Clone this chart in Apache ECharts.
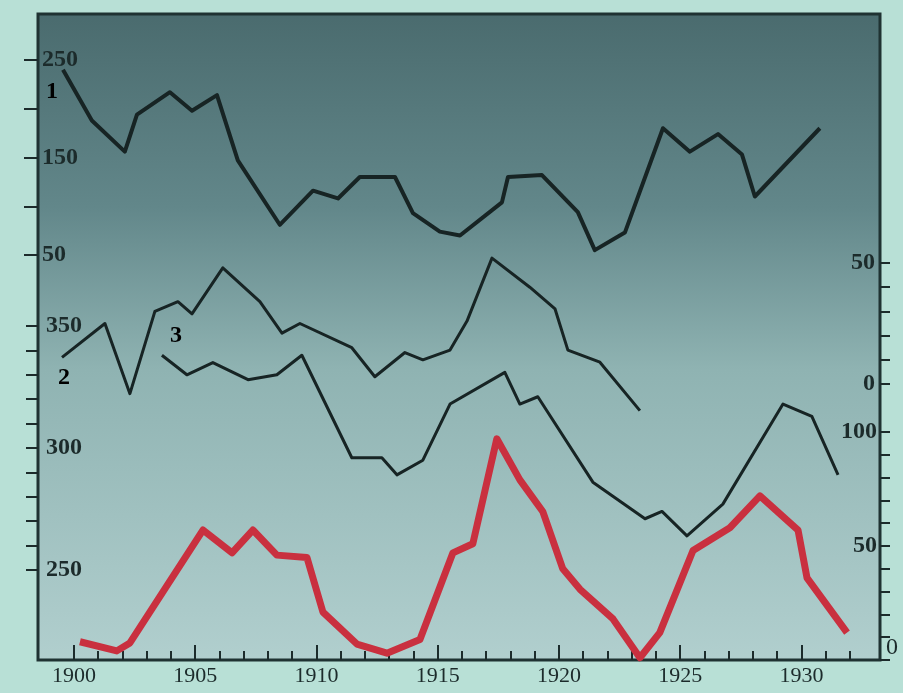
<!DOCTYPE html>
<html>
<head>
<meta charset="utf-8">
<script src="https://cdn.jsdelivr.net/npm/echarts@6/dist/echarts.min.js"></script>
<style>
  html, body { margin: 0; padding: 0; background: #b6ded4; }
  #chart { width: 903px; height: 693px; }
</style>
</head>
<body>
<div id="chart"></div>
<script>
// 曲线 1 (左上刻度 50-250)
const curve1Years = [1899.55, 1900.74, 1902.10, 1902.60, 1903.96, 1904.87, 1905.90, 1906.76, 1908.49, 1909.86, 1910.89, 1911.79, 1913.24, 1913.98, 1915.09, 1915.92, 1917.65, 1917.90, 1919.30, 1920.78, 1921.48, 1922.72, 1924.29, 1925.40, 1926.56, 1927.55, 1928.08, 1930.76]
const curve1Values = [240, 188, 156, 194, 217, 198, 214, 147, 81, 116, 108, 130, 130, 93, 74, 70, 104, 130, 132, 94, 55, 73, 180, 156, 174, 153, 110, 180]

// 曲线 2 (右上刻度 0-50)
const curve2Years = [1899.51, 1901.28, 1902.31, 1903.34, 1904.29, 1904.87, 1906.14, 1907.67, 1908.58, 1909.32, 1911.46, 1912.41, 1913.65, 1914.39, 1915.51, 1916.21, 1917.24, 1918.80, 1919.84, 1920.37, 1921.69, 1923.34]
const curve2Values = [11, 25, -4, 30, 34, 29, 48, 34, 21, 25, 15, 3, 13, 10, 14, 26, 52, 40, 31, 14, 9, -11]

// 曲线 3 (左下刻度 250-350)
const curve3Years = [1903.63, 1904.66, 1905.73, 1907.18, 1908.37, 1909.40, 1911.46, 1912.70, 1913.32, 1914.39, 1915.51, 1917.77, 1918.39, 1919.13, 1921.40, 1923.55, 1924.25, 1925.28, 1926.76, 1929.24, 1930.43, 1931.51]
const curve3Values = [338, 330, 335, 328, 330, 338, 296, 296, 289, 295, 318, 331, 318, 321, 286, 271, 274, 264, 277, 318, 313, 289]

// 红线 (右下刻度 0-100)
const redYears = [1900.25, 1901.77, 1902.31, 1905.32, 1906.52, 1907.38, 1908.37, 1909.61, 1910.27, 1911.67, 1912.91, 1914.27, 1915.63, 1916.45, 1917.44, 1918.39, 1919.34, 1920.16, 1920.87, 1922.23, 1923.34, 1924.16, 1925.53, 1927.05, 1928.29, 1929.86, 1930.23, 1931.88]
const redValues = [8, 4, 7.5, 57, 47, 57, 46, 45, 21, 7, 3, 9, 47, 51, 97, 79, 65, 40, 31, 18, 1, 12, 48, 58, 72, 57, 36, 12]

// 刻度
const yearLabels = [1900, 1905, 1910, 1915, 1920, 1925, 1930]
const yearTicks = []
for (let y = 1900; y <= 1932; y++) yearTicks.push(y)
const axis1Ticks = [50, 100, 150, 200, 250]
const axis1Labels = [50, 150, 250]
const axis3Ticks = [250, 260, 270, 280, 290, 300, 310, 320, 330, 340, 350]
const axis3Labels = [250, 300, 350]
const axis2Ticks = [0, 10, 20, 30, 40, 50]
const axis2Labels = [0, 50]
const redTicks = [0, 10, 20, 30, 40, 50, 60, 70, 80, 90, 100]
const redLabels = [50, 100]

const pair = (xs, vs) => xs.map((x, i) => [x, vs[i]])

const ink = '#1c2b2b'
const font = {
  color: ink,
  fontFamily: 'Liberation Serif',
  fontSize: 24,
  fontWeight: 'bold'
}

function yAx(opts) {
  return Object.assign({
    type: 'value',
    splitLine: { show: false },
    axisLine: { show: false, onZero: false }
  }, opts)
}

function xAx(opts) {
  return Object.assign({
    type: 'value',
    position: 'bottom',
    min: 1898.52,
    max: 1933.24,
    splitLine: { show: false },
    axisLine: { show: false, onZero: false }
  }, opts)
}

let myChart = echarts.init(document.getElementById('chart'))
let option = {
  animation: false,
  backgroundColor: '#b8e0d6',
  grid: {
    left: 38,
    right: 23,
    top: 14,
    bottom: 33,
    show: true,
    borderColor: '#1f3232',
    borderWidth: 3,
    outerBoundsMode: 'none',
    backgroundColor: new echarts.graphic.LinearGradient(0, 0, 0, 1, [
      { offset: 0, color: '#4a6b6e' },
      { offset: 0.3, color: '#62878a' },
      { offset: 0.55, color: '#8fb3b2' },
      { offset: 1, color: '#b1cfce' }
    ])
  },
  xAxis: [
    xAx({
      axisTick: { inside: true, length: 9, customValues: yearTicks, lineStyle: { color: ink, width: 2 } },
      axisLabel: Object.assign({}, font, {
        customValues: yearLabels,
        margin: 5,
        fontSize: 22,
        fontWeight: 'normal',
        formatter: v => String(v)
      })
    }),
    xAx({
      axisTick: { inside: true, length: 15, customValues: yearLabels, lineStyle: { color: ink, width: 2 } },
      axisLabel: { show: false }
    })
  ],
  yAxis: [
    yAx({
      position: 'left', min: -365.38, max: 297.18,
      axisTick: { length: 14, customValues: axis1Ticks, lineStyle: { color: ink, width: 2 } },
      axisLabel: Object.assign({ inside: true, margin: 4, customValues: axis1Labels }, font)
    }),
    yAx({
      position: 'left', min: 213.11, max: 477.87,
      axisTick: { length: 12, customValues: axis3Ticks, lineStyle: { color: ink, width: 2 } },
      axisLabel: Object.assign({ inside: true, margin: 8, customValues: axis3Labels }, font)
    }),
    yAx({
      position: 'right', min: -114.05, max: 152.89,
      axisTick: { length: 10, customValues: axis2Ticks, lineStyle: { color: ink, width: 2 } },
      axisLabel: Object.assign({ inside: true, margin: 5, customValues: axis2Labels }, font)
    }),
    yAx({
      position: 'right', min: 0, max: 283.33,
      axisTick: { length: 10, customValues: redTicks, lineStyle: { color: ink, width: 2 } },
      axisLabel: Object.assign({ inside: true, margin: 3, customValues: redLabels }, font)
    }),
    yAx({
      position: 'right', min: 0, max: 283.33,
      axisTick: { show: false },
      axisLabel: Object.assign({ margin: 6, customValues: [0], verticalAlign: 'bottom' }, font, { fontWeight: 'normal' })
    })
  ],
  series: [
    {
      name: '1', type: 'line', yAxisIndex: 0, symbol: 'none',
      data: pair(curve1Years, curve1Values),
      lineStyle: { color: '#172424', width: 4, join: 'round' }
    },
    {
      name: '2', type: 'line', yAxisIndex: 2, symbol: 'none',
      data: pair(curve2Years, curve2Values),
      lineStyle: { color: '#172424', width: 3, join: 'round' }
    },
    {
      name: '3', type: 'line', yAxisIndex: 1, symbol: 'none',
      data: pair(curve3Years, curve3Values),
      lineStyle: { color: '#172424', width: 3, join: 'round' }
    },
    {
      name: 'red', type: 'line', yAxisIndex: 3, symbol: 'none',
      data: pair(redYears, redValues),
      lineStyle: { color: '#c9303f', width: 7, join: 'round' }
    }
  ],
  graphic: [
    { type: 'text', left: 46, top: 80, style: Object.assign({ text: '1' }, font) },
    { type: 'text', left: 58, top: 366, style: Object.assign({ text: '2' }, font) },
    { type: 'text', left: 170, top: 324, style: Object.assign({ text: '3' }, font) }
  ]
}
myChart.setOption(option)
</script>
</body>
</html>
